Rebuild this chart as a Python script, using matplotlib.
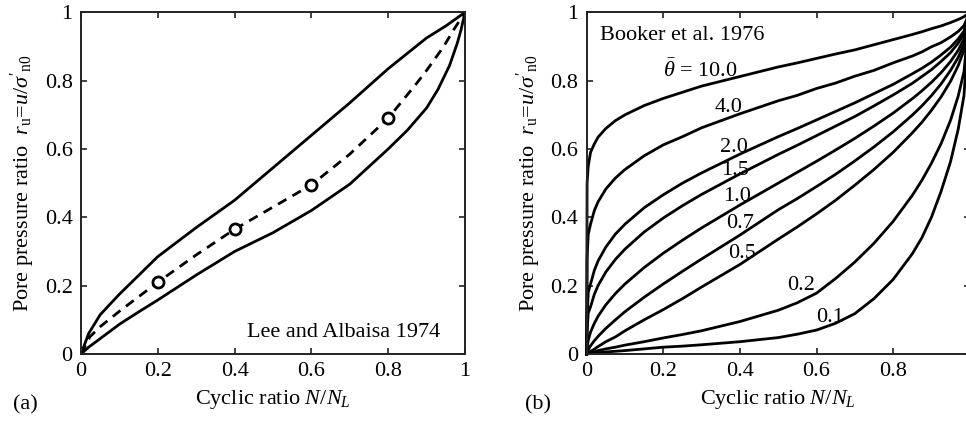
import matplotlib
matplotlib.use("Agg")
import matplotlib.pyplot as plt

plt.rcParams["font.family"] = ["Liberation Serif", "DejaVu Serif"]
plt.rcParams["mathtext.fontset"] = "custom"
plt.rcParams["mathtext.rm"] = "Liberation Serif"
plt.rcParams["mathtext.it"] = "Liberation Serif:italic"
plt.rcParams["mathtext.bf"] = "Liberation Serif:bold"

# ---- panel (a): Lee and Albaisa 1974 band
a_upper_x = [0, 0.02, 0.05, 0.1, 0.15, 0.2, 0.3, 0.4, 0.5, 0.6, 0.7, 0.8, 0.85, 0.9, 0.95, 0.975, 1.0]
a_upper_y = [0, 0.06, 0.115, 0.175, 0.23, 0.285, 0.37, 0.45, 0.545, 0.64, 0.735, 0.835, 0.88, 0.925, 0.96, 0.98, 1.0]
a_lower_x = [0, 0.02, 0.05, 0.1, 0.15, 0.2, 0.3, 0.4, 0.5, 0.6, 0.7, 0.8, 0.85, 0.9, 0.93, 0.96, 0.98, 0.99, 1.0]
a_lower_y = [0, 0.02, 0.045, 0.087, 0.123, 0.158, 0.231, 0.3, 0.355, 0.42, 0.497, 0.6, 0.655, 0.72, 0.775, 0.845, 0.91, 0.95, 1.0]
a_mean_x = [0, 0.023, 0.05, 0.1, 0.2, 0.3, 0.4, 0.5, 0.6, 0.7, 0.8, 0.874, 0.9, 0.944, 0.97, 1.0]
a_mean_y = [0, 0.05, 0.08, 0.125, 0.21, 0.29, 0.365, 0.43, 0.495, 0.585, 0.69, 0.792, 0.83, 0.899, 0.948, 1.0]
a_pts_x = [0.2, 0.4, 0.6, 0.8]
a_pts_y = [0.21, 0.365, 0.495, 0.69]

# ---- panel (b): Booker et al. 1976, one curve per theta
b_x = [0, 0.001, 0.004, 0.01, 0.02, 0.03, 0.05, 0.075, 0.1, 0.15, 0.2, 0.25, 0.3, 0.4, 0.5,
       0.55, 0.6, 0.65, 0.7, 0.75, 0.8, 0.85, 0.875, 0.9, 0.925, 0.95, 0.97, 0.985, 1.0]
b_theta_10 = [0, 0.50, 0.55, 0.59, 0.615, 0.635, 0.66, 0.683, 0.70, 0.727, 0.748, 0.766, 0.784, 0.812, 0.84,
              0.852, 0.865, 0.878, 0.89, 0.905, 0.92, 0.935, 0.943, 0.952, 0.96, 0.97, 0.979, 0.987, 1.0]
b_theta_4 = [0, 0.28, 0.35, 0.38, 0.42, 0.446, 0.483, 0.515, 0.54, 0.58, 0.612, 0.636, 0.662, 0.703, 0.741,
             0.757, 0.777, 0.793, 0.813, 0.83, 0.852, 0.872, 0.884, 0.899, 0.911, 0.928, 0.944, 0.961, 1.0]
b_theta_2 = [0, 0.11, 0.18, 0.205, 0.245, 0.273, 0.313, 0.351, 0.38, 0.428, 0.466, 0.50, 0.53, 0.585, 0.636,
             0.66, 0.685, 0.71, 0.735, 0.762, 0.789, 0.82, 0.836, 0.854, 0.875, 0.898, 0.922, 0.945, 1.0]
b_theta_15 = [0, 0.065, 0.12, 0.138, 0.175, 0.201, 0.24, 0.277, 0.307, 0.357, 0.398, 0.434, 0.467, 0.527, 0.584,
              0.611, 0.639, 0.667, 0.695, 0.726, 0.758, 0.792, 0.812, 0.832, 0.856, 0.882, 0.91, 0.936, 1.0]
b_theta_1 = [0, 0.02, 0.04, 0.064, 0.09, 0.111, 0.144, 0.177, 0.205, 0.253, 0.295, 0.333, 0.369, 0.436, 0.50,
             0.532, 0.564, 0.597, 0.631, 0.667, 0.705, 0.747, 0.77, 0.795, 0.823, 0.856, 0.889, 0.922, 1.0]
b_theta_07 = [0, 0.003, 0.012, 0.024, 0.039, 0.052, 0.075, 0.10, 0.124, 0.166, 0.205, 0.242, 0.278, 0.348, 0.422,
              0.455, 0.49, 0.526, 0.565, 0.606, 0.65, 0.699, 0.726, 0.756, 0.79, 0.83, 0.868, 0.907, 1.0]
b_theta_05 = [0, 0.001, 0.004, 0.008, 0.014, 0.022, 0.036, 0.05, 0.068, 0.10, 0.13, 0.162, 0.196, 0.262, 0.336,
              0.372, 0.41, 0.45, 0.494, 0.54, 0.59, 0.647, 0.678, 0.713, 0.752, 0.798, 0.844, 0.889, 1.0]
b_theta_02 = [0, 0.0, 0.002, 0.004, 0.006, 0.01, 0.015, 0.02, 0.026, 0.036, 0.047, 0.057, 0.068, 0.095, 0.128,
              0.15, 0.178, 0.221, 0.269, 0.324, 0.388, 0.464, 0.508, 0.558, 0.615, 0.684, 0.755, 0.826, 1.0]
b_theta_01 = [0, 0.0, 0.001, 0.002, 0.003, 0.004, 0.006, 0.008, 0.01, 0.015, 0.02, 0.023, 0.027, 0.036, 0.048,
              0.058, 0.07, 0.09, 0.118, 0.162, 0.218, 0.293, 0.34, 0.40, 0.475, 0.563, 0.658, 0.756, 1.0]
b_curves = [b_theta_10, b_theta_4, b_theta_2, b_theta_15, b_theta_1,
            b_theta_07, b_theta_05, b_theta_02, b_theta_01]
b_labels = [r"$\bar{\theta}$ = 10.0", "4.0", "2.0", "1.5", "1.0", "0.7", "0.5", "0.2", "0.1"]
b_label_x = [0.20, 0.335, 0.348, 0.352, 0.356, 0.365, 0.369, 0.522, 0.60]
b_label_y = [0.81, 0.708, 0.591, 0.524, 0.448, 0.369, 0.281, 0.187, 0.095]

ticks = [0, 0.2, 0.4, 0.6, 0.8, 1.0]
a_tick_labels = ["0", "0.2", "0.4", "0.6", "0.8", "1"]
b_xtick_labels = ["0", "0.2", "0.4", "0.6", "0.8", ""]
FS = 16
ylab = r"Pore pressure ratio  $r_{\rm u}$=$u/\sigma'_{\rm n0}$"
xlab = r"Cyclic ratio $N/N_L$"


def style_axes(ax, xlabels):
    ax.set_xlim(0, 1)
    ax.set_ylim(0, 1)
    ax.set_xticks(ticks)
    ax.set_yticks(ticks)
    ax.set_xticklabels(xlabels)
    ax.set_yticklabels(a_tick_labels)
    ax.tick_params(direction="in", top=True, right=True, length=4,
                   width=1.2, labelsize=FS, pad=6, color="#222222")
    for s in ax.spines.values():
        s.set_linewidth(1.4)
        s.set_color("#222222")
    ax.set_xlabel(xlab, fontsize=FS)
    ax.set_ylabel(ylab, fontsize=FS)
    ax.xaxis.set_label_coords(0.5, -0.1)
    ax.yaxis.set_label_coords(-0.115, 0.5)


fig = plt.figure(figsize=(9.66, 4.25), dpi=100)
ax1 = fig.add_axes([81 / 966, 71 / 425, 384 / 966, 341.7 / 425])
ax2 = fig.add_axes([586.7 / 966, 71 / 425, 383 / 966, 341.7 / 425])

# (a)
ax1.plot(a_upper_x, a_upper_y, color="black", lw=2)
ax1.plot(a_lower_x, a_lower_y, color="black", lw=2)
ax1.plot(a_mean_x, a_mean_y, color="black", lw=2, ls=(0, (3.5, 2.5)))
ax1.plot(a_pts_x, a_pts_y, ls="none", marker="o", ms=8, mfc="white",
         mec="black", mew=2)
ax1.text(0.935, 0.05, "Lee and Albaisa 1974", fontsize=FS, ha="right",
         va="baseline")
style_axes(ax1, a_tick_labels)

# (b)
for ys in b_curves:
    ax2.plot(b_x, ys, color="black", lw=2, clip_on=False)
for lab, lx, ly in zip(b_labels, b_label_x, b_label_y):
    ax2.text(lx, ly, lab, fontsize=FS, ha="left", va="baseline")
ax2.text(0.035, 0.932, "Booker et al. 1976", fontsize=FS, ha="left",
         va="center")
style_axes(ax2, b_xtick_labels)

fig.text(13 / 966, 16 / 425, "(a)", fontsize=FS, va="baseline")
fig.text(525 / 966, 16 / 425, "(b)", fontsize=FS, va="baseline")

fig.savefig("out.png", dpi=100)
